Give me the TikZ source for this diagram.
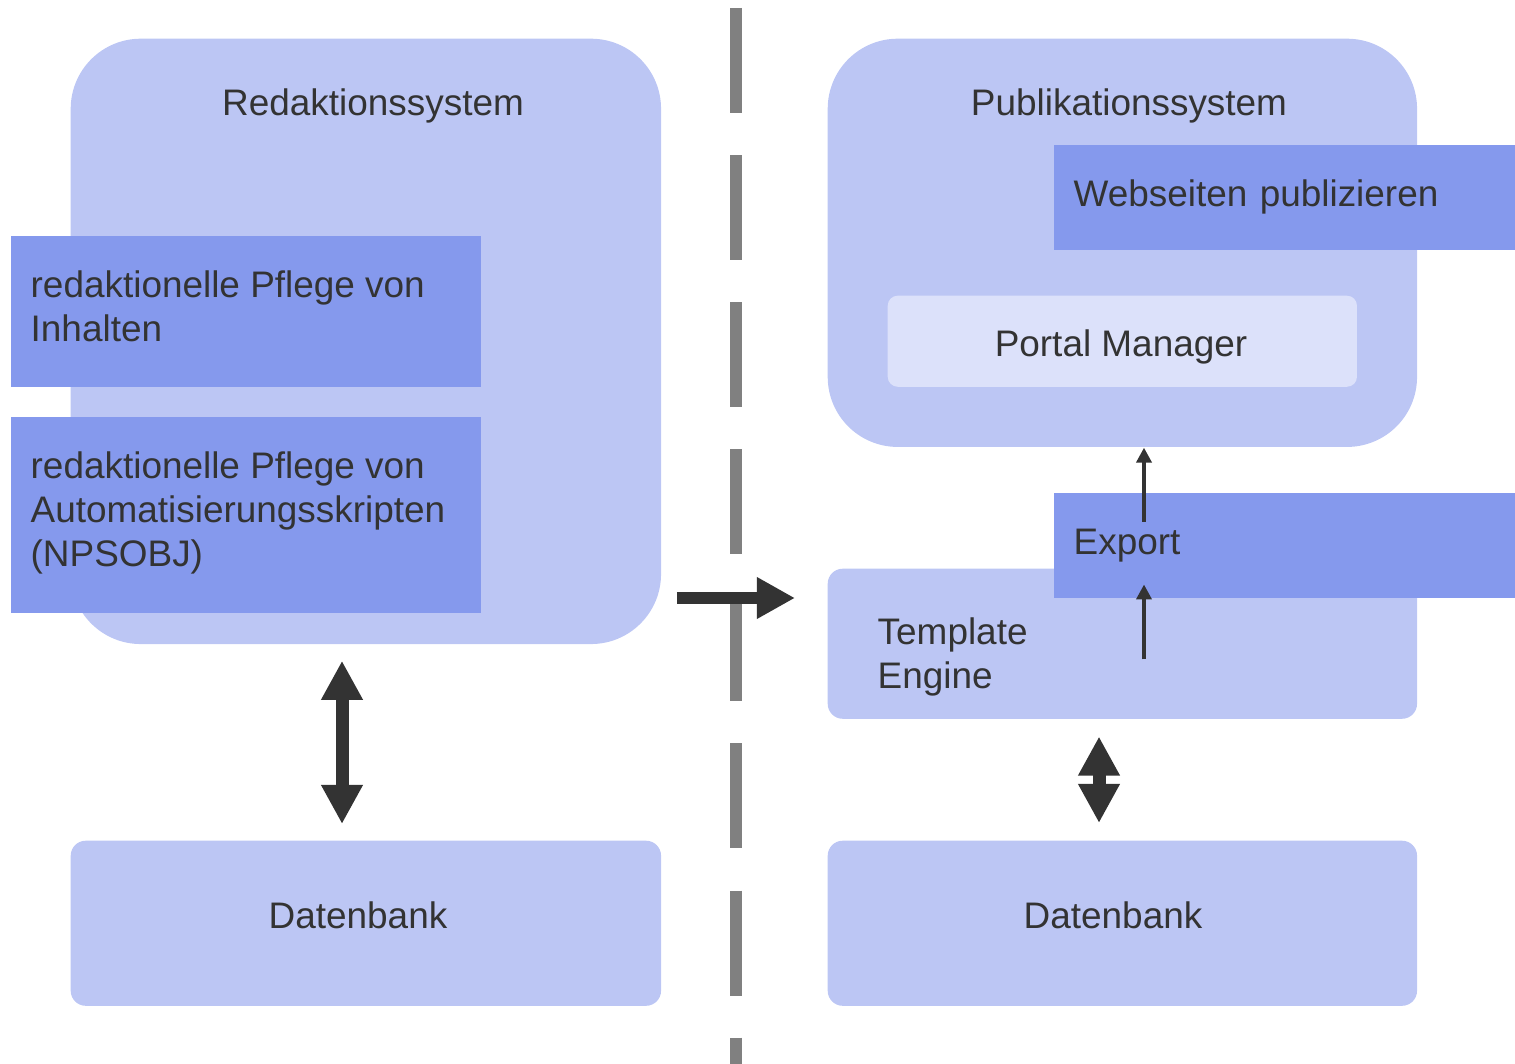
\documentclass[tikz,border=0pt]{standalone}
\usepackage{fontspec}
\setmainfont{Liberation Sans}
\usetikzlibrary{arrows.meta,positioning,calc}
\definecolor{lightblue}{RGB}{188,198,244}
\definecolor{darkblue}{RGB}{133,153,237}
\definecolor{paleblue}{RGB}{220,225,250}
\definecolor{txtgray}{RGB}{51,51,51}
\definecolor{dashgray}{RGB}{128,128,128}
\tikzset{
  sysbox/.style={fill=lightblue, rounded corners=0.7cm, anchor=north west},
  dbbox/.style={fill=lightblue, rounded corners=0.15cm, anchor=north west},
  taskbox/.style={fill=darkblue, anchor=north west, align=left, inner xsep=0.2cm},
  title/.style={inner sep=0pt},
  sepline/.style={draw=dashgray, line width=0.12cm, dash pattern=on 1.05cm off 0.42cm},
  bigarrow/.style={draw=txtgray, line width=0.12cm, -{Triangle[length=0.38cm,width=0.39cm]}},
  dblarrow/.style={draw=txtgray, line width=0.13cm, {Triangle[length=0.39cm,width=0.39cm]}-{Triangle[length=0.39cm,width=0.39cm]}},
  thinarrow/.style={draw=txtgray, line width=0.045cm, -{Triangle[length=0.15cm,width=0.15cm]}},
}
\begin{document}
\begin{tikzpicture}[x=0.01cm, y=-0.01cm, font=\fontsize{10.5}{12.5}\selectfont, text=txtgray]
  \useasboundingbox (0,0) rectangle (1515,1064);
  % Trennlinie
  \draw[sepline] (736,8) -- (736,1064);

  % linke Seite
  \node[sysbox, minimum width=5.9cm, minimum height=6.05cm] (redak) at (70,38) {};
  \node[title] (redaktitle) at (373,106) {Redaktionssystem};
  \node[taskbox, minimum width=4.7cm, minimum height=1.51cm] (inhalte) at (10,235) {};
  \node[title, anchor=west, align=left] (inhaltetext) at ($(inhalte.west)+(20,-5)$)
    {redaktionelle Pflege von\\Inhalten};
  \node[taskbox, minimum width=4.7cm, minimum height=1.96cm] (skripte) at (10,416) {};
  \node[title, anchor=west, align=left] (skriptetext) at ($(skripte.west)+(20,-2)$)
    {redaktionelle Pflege von\\Automatisierungsskripten\\(NPSOBJ)};
  \node[dbbox, minimum width=5.9cm, minimum height=1.65cm] (dbl) at (70,840) {};
  \node[title] (dbltitle) at (358,915) {Datenbank};

  % rechte Seite
  \node[sysbox, minimum width=5.89cm, minimum height=4.08cm] (pub) at (827,38) {};
  \node[title] (pubtitle) at (1129,106) {Publikationssystem};
  \node[taskbox, text width=4.22cm, minimum height=1.05cm] (web) at (1053,144) {Webseiten publizieren};
  \node[fill=paleblue, rounded corners=0.1cm, anchor=north west,
        minimum width=4.69cm, minimum height=0.91cm] (portal) at (887,295) {};
  \node[title] (portaltitle) at (1121,347) {Portal Manager};
  \node[dbbox, minimum width=5.89cm, minimum height=1.5cm] (tmpl) at (827,568) {};
  \node[title, anchor=west, align=left] (tmpltitle) at (877,657) {Template\\Engine};
  \node[taskbox, text width=4.22cm, minimum height=1.05cm] (export) at (1053,492) {Export};
  \node[dbbox, minimum width=5.89cm, minimum height=1.65cm] (dbr) at (827,840) {};
  \node[title] (dbrtitle) at (1113,915) {Datenbank};

  % Pfeile
  \coordinate (la) at (342,0);
  \coordinate (ra) at (1099,0);
  \coordinate (ex) at (1144,0);
  \coordinate (ha) at (0,598);
  \draw[dblarrow, shorten <=0.16cm, shorten >=0.16cm] (redak.south -| la) -- (dbl.north -| la);
  \draw[dblarrow, shorten <=0.17cm, shorten >=0.17cm] (tmpl.south -| ra) -- (dbr.north -| ra);
  \draw[bigarrow, shorten <=0.15cm, shorten >=0.32cm] (redak.east |- ha) -- (tmpl.west |- ha);
  \draw[thinarrow] ($(tmpl.south -| ex)+(0,-60)$) -- ($(export.south -| ex)+(0,-14)$);
  \draw[thinarrow] ($(export.north -| ex)+(0,30)$) -- (pub.south -| ex);
\end{tikzpicture}
\end{document}
